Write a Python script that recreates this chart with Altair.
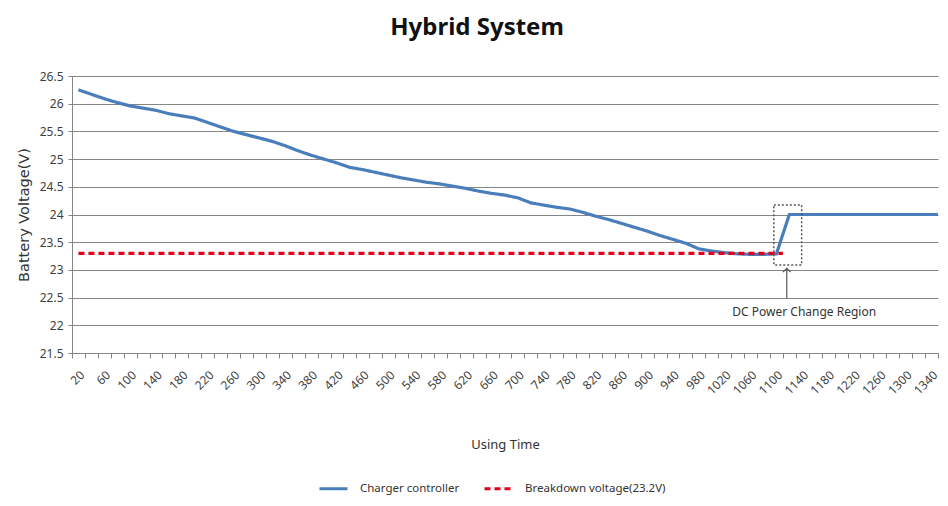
import altair as alt
import pandas as pd

# ---- data ----
times = [20, 40, 60, 80, 100, 120, 140, 160, 180, 200, 220, 240, 260, 280, 300,
         320, 340, 360, 380, 400, 420, 440, 460, 480, 500, 520, 540, 560, 580, 600,
         620, 640, 660, 680, 700, 720, 740, 760, 780, 800, 820, 840, 860, 880, 900,
         920, 940, 960, 980, 1000, 1020, 1040, 1060, 1080, 1100, 1120, 1340, 1350]
volts = [26.25, 26.17, 26.09, 26.02, 25.96, 25.92, 25.88, 25.82, 25.78, 25.74,
         25.66, 25.58, 25.50, 25.44, 25.38, 25.32, 25.24, 25.15, 25.07, 25.00,
         24.93, 24.85, 24.81, 24.76, 24.71, 24.66, 24.62, 24.58, 24.55, 24.51,
         24.47, 24.42, 24.38, 24.35, 24.30, 24.21, 24.17, 24.13, 24.10, 24.04,
         23.97, 23.91, 23.84, 23.77, 23.70, 23.62, 23.55, 23.48, 23.38, 23.34,
         23.31, 23.29, 23.28, 23.28, 23.29, 24.00, 24.00, 24.00]
breakdown_times = [20, 1110]
breakdown_volts = [23.3, 23.3]
series_names = ["Charger controller", "Breakdown voltage(23.2V)"]
x_label_values = list(range(20, 1341, 40))
x_tick_values = list(range(10, 1351, 20))
y_ticks = [21.5, 22, 22.5, 23, 23.5, 24, 24.5, 25, 25.5, 26, 26.5]

# annotation (DC power change region)
box_t = [1096]
box_t2 = [1139]
box_v = [23.09]
box_v2 = [24.17]
arrow_t = [1116]
arrow_v_bottom = [22.49]
arrow_v_top = [23.03]
note_t = [1143]
note_v = [22.24]
note_text = ["DC Power Change Region"]

FONT = "Noto Sans"
AXIS_GRAY = "#858585"

df = pd.concat([
    pd.DataFrame({"t": times, "v": volts, "series": series_names[0]}),
    pd.DataFrame({"t": breakdown_times, "v": breakdown_volts, "series": series_names[1]}),
])

xscale = alt.Scale(domain=[10, 1350], nice=False, zero=False)
yscale = alt.Scale(domain=[21.5, 26.5], nice=False, zero=False)

x_axis_labels = alt.Axis(
    orient="bottom", values=x_label_values, labelAngle=-45, labelFontSize=12,
    labelColor="#404040", format="d", labelOverlap=False, grid=False, ticks=False,
    tickSize=0, domainColor=AXIS_GRAY, title="Using Time", titleFontSize=13,
    titleFontWeight="normal", titleColor="#333333", titlePadding=42,
    labelPadding=16, labelFlush=False,
)
x_axis_ticks = alt.Axis(
    orient="bottom", values=x_tick_values, labels=False, domain=False, grid=False,
    tickColor=AXIS_GRAY, tickSize=5, title=None,
)
y_axis = alt.Axis(
    values=y_ticks, format=".1~f", labelFontSize=12, labelColor="#404040",
    labelOverlap=False, grid=True, gridColor=AXIS_GRAY, gridWidth=1,
    tickColor=AXIS_GRAY, tickSize=4, labelPadding=5,
    domainColor=AXIS_GRAY, title="Battery Voltage(V)", titleFont="DejaVu Sans",
    titleFontSize=14.5, titleFontWeight="normal", titleColor="#333333", titlePadding=8,
)


def yenc(field="v"):
    return alt.Y(f"{field}:Q", scale=yscale, axis=y_axis)


lines = alt.Chart(df).mark_line(strokeWidth=3.2, clip=True).encode(
    x=alt.X("t:Q", scale=xscale, axis=x_axis_labels),
    y=yenc(),
    color=alt.Color("series:N", scale=alt.Scale(domain=series_names, range=["#4a7ebb", "#e2001a"]),
                    legend=alt.Legend(title=None)),
    strokeDash=alt.StrokeDash("series:N", scale=alt.Scale(domain=series_names, range=[[1, 0], [6, 4]]),
                              legend=alt.Legend(title=None)),
    detail="series:N",
)

box = alt.Chart(pd.DataFrame({"t": box_t, "t2": box_t2, "v": box_v, "v2": box_v2})).mark_rect(
    fill=None, fillOpacity=0, stroke="#555555", strokeWidth=1.5, strokeDash=[2, 2]
).encode(x=alt.X("t:Q", scale=xscale, axis=x_axis_ticks), x2="t2:Q",
         y=yenc(), y2="v2:Q")

arrow = alt.Chart(pd.DataFrame({"t": arrow_t, "v": arrow_v_bottom, "v2": arrow_v_top})).mark_rule(
    color="#555555", strokeWidth=1.2
).encode(x=alt.X("t:Q", scale=xscale, axis=None), y=yenc(), y2="v2:Q")

arrow_head = alt.Chart(pd.DataFrame({"t": arrow_t, "v": arrow_v_top})).mark_point(
    shape="M -1 1 L 0 0 L 1 1", size=60, filled=False, color="#555555", strokeWidth=1.2, opacity=1
).encode(x=alt.X("t:Q", scale=xscale, axis=None), y=yenc())

note = alt.Chart(pd.DataFrame({"t": note_t, "v": note_v, "label": note_text})).mark_text(
    font=FONT, fontSize=12, color="#333333", align="center", baseline="middle"
).encode(x=alt.X("t:Q", scale=xscale, axis=None), y=yenc(), text="label:N")

chart = alt.layer(lines, box, arrow, arrow_head, note).resolve_axis(
    x="independent"
).properties(
    width=866, height=277,
    autosize=alt.AutoSizeParams(type="none"),
    padding={"left": 64, "top": 68, "right": 2, "bottom": 145},
    title=alt.TitleParams("Hybrid System", fontSize=24, font=FONT, fontWeight="bold",
                          anchor="middle", color="#111111", offset=30, dx=-28),
).configure(font=FONT).configure_view(stroke=None).configure_legend(
    orient="none", legendX=246, legendY=397, direction="horizontal",
    symbolType="stroke", symbolSize=784, symbolStrokeWidth=3,
    labelFontSize=11.5, labelColor="#333333", labelFont=FONT,
    columnPadding=18, labelOffset=11,
)

chart.save("out.html", embed_options={"renderer": "svg", "actions": False})
